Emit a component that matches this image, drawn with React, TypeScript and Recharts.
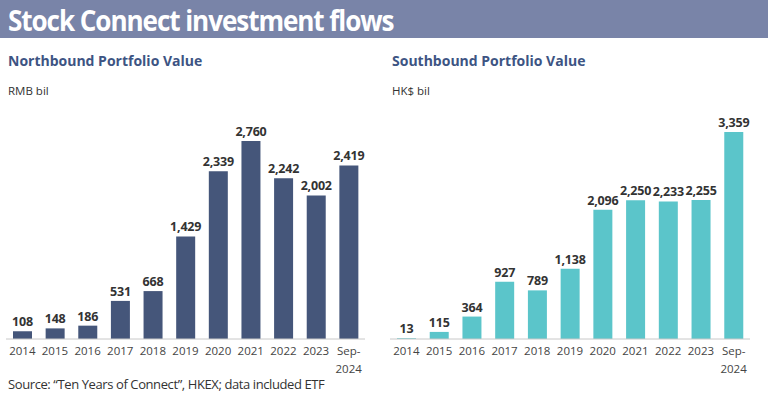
import React from 'react';
import { BarChart, Bar, XAxis, YAxis, LabelList } from 'recharts';

const years = ['2014', '2015', '2016', '2017', '2018', '2019', '2020', '2021', '2022', '2023', 'Sep-\n2024'];
const northbound = [108, 148, 186, 531, 668, 1429, 2339, 2760, 2242, 2002, 2419];
const southbound = [13, 115, 364, 927, 789, 1138, 2096, 2250, 2233, 2255, 3359];

const FONT = '"Open Sans", sans-serif';

const northData = years.map((year, i) => ({ year, value: northbound[i] }));
const southData = years.map((year, i) => ({ year, value: southbound[i] }));

const fmt = (v: any) => Number(v).toLocaleString('en-US');

const YearTick = (props: any) => {
  const { x, y, payload } = props;
  const lines = String(payload.value).split('\n');
  return (
    <text x={x} y={y} textAnchor="middle" fill="#444" fontSize={11.5} fontFamily={FONT}>
      {lines.map((l, i) => (
        <tspan key={i} x={x} dy={i === 0 ? '0.71em' : 18}>
          {l}
        </tspan>
      ))}
    </text>
  );
};

interface PanelProps {
  left: number;
  title: string;
  unit: string;
  data: { year: string; value: number }[];
  color: string;
  max: number;
  marginRight: number;
}

const Panel: React.FC<PanelProps> = ({ left, title, unit, data, color, max, marginRight }) => (
  <div style={{ position: 'absolute', left, top: 0, width: 384, height: 397 }}>
    <div style={{ position: 'absolute', left: 8, top: 51, fontSize: 14, fontWeight: 700, color: '#3d5483', fontFamily: FONT }}>
      {title}
    </div>
    <div style={{ position: 'absolute', left: 8, top: 83, fontSize: 11.5, color: '#333', fontFamily: FONT }}>
      {unit}
    </div>
    <div style={{ position: 'absolute', left: 0, top: 0 }}>
      <BarChart
        width={384}
        height={397}
        data={data}
        margin={{ top: 100, right: marginRight, bottom: 0, left: 6 }}
        barSize={19}
      >
        <XAxis
          dataKey="year"
          height={58}
          interval={0}
          tickLine={false}
          axisLine={{ stroke: '#c8c8c8' }}
          tick={<YearTick />}
        />
        <YAxis hide domain={[0, max]} />
        <Bar dataKey="value" fill={color} isAnimationActive={false}>
          <LabelList
            dataKey="value"
            position="top"
            offset={5}
            formatter={fmt}
            style={{ fontSize: 12.5, fontWeight: 700, fill: '#333', fontFamily: FONT, letterSpacing: -0.2 }}
          />
        </Bar>
      </BarChart>
    </div>
  </div>
);

export default function App() {
  return (
    <div style={{ position: 'relative', width: 768, height: 397, background: '#fff', overflow: 'hidden', fontFamily: FONT }}>
      <style>{'body{margin:0}'}</style>
      <div style={{ position: 'absolute', left: 0, top: 0, width: 768, height: 38, background: '#7984a8' }} />
      <div
        style={{
          position: 'absolute',
          left: 8,
          top: 0,
          height: 38,
          lineHeight: '40px',
          fontSize: 29,
          fontWeight: 700,
          color: '#fff',
          letterSpacing: -1.2,
          whiteSpace: 'nowrap',
          transform: 'scaleX(0.9)',
          transformOrigin: 'left center',
          fontFamily: FONT,
        }}
      >
        Stock Connect investment flows
      </div>
      <Panel left={0} title="Northbound Portfolio Value" unit="RMB bil" data={northData} color="#45567a" max={3332} marginRight={19} />
      <Panel left={384} title="Southbound Portfolio Value" unit="HK$ bil" data={southData} color="#5bc5ca" max={3878} marginRight={18} />
      <div style={{ position: 'absolute', left: 8, top: 375, fontSize: 13, color: '#333', letterSpacing: -0.4, whiteSpace: 'nowrap', fontFamily: FONT }}>
        Source: “Ten Years of Connect”, HKEX; data included ETF
      </div>
    </div>
  );
}
